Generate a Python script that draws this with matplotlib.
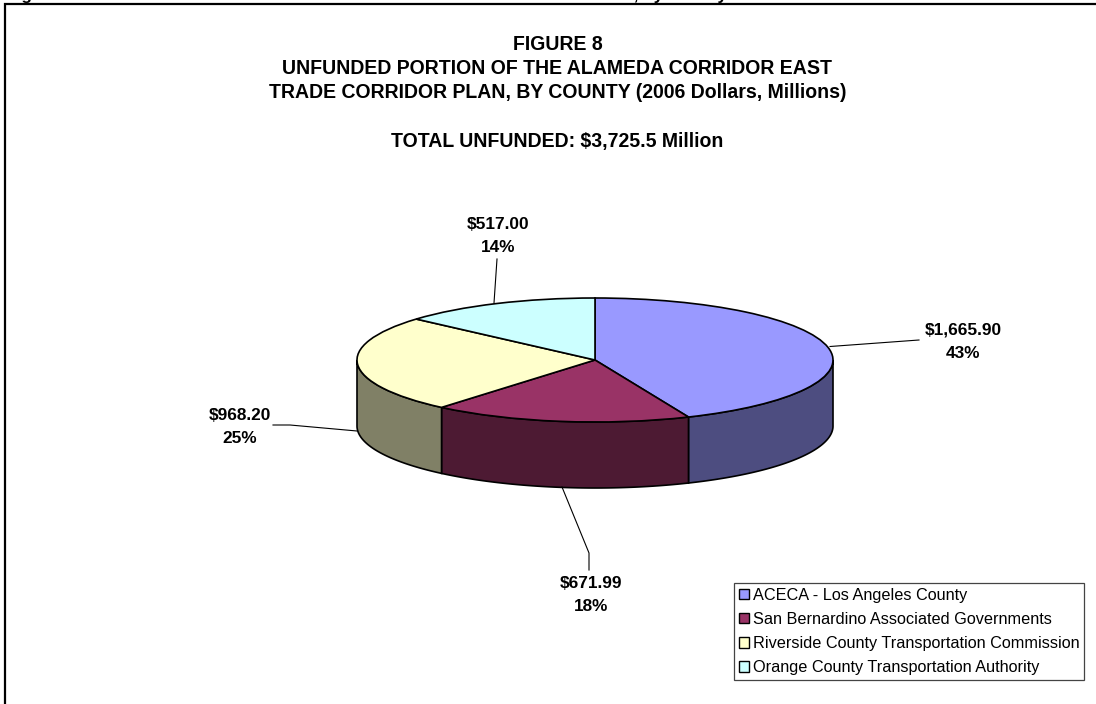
import numpy as np
from matplotlib import pyplot as plt
from matplotlib.patches import Patch

plt.rcParams['font.family'] = ['Liberation Sans', 'DejaVu Sans']

agencies = ['ACECA - Los Angeles County',
            'San Bernardino Associated Governments',
            'Riverside County Transportation Commission',
            'Orange County Transportation Authority']
funding = [1665.90, 671.99, 968.20, 517.00]
value_labels = ['$1,665.90\n43%', '$671.99\n18%', '$968.20\n25%', '$517.00\n14%']
top_colors = ['#9999FF', '#993366', '#FFFFCC', '#CCFFFF']
side_colors = ['#4D4D80', '#4D1A33', '#808066', '#668080']
title_lines = ['FIGURE 8',
               'UNFUNDED PORTION OF THE ALAMEDA CORRIDOR EAST',
               'TRADE CORRIDOR PLAN, BY COUNTY (2006 Dollars, Millions)',
               'TOTAL UNFUNDED: $3,725.5 Million']
page_heading = 'Figure 8: Unfunded Portion of the Alameda Corridor East Trade Corridor Plan, by County'

W, H = 1096, 704
cx, cy, rx, ry, depth = 595, 360, 238, 62, 66

fig = plt.figure(figsize=(W / 100, H / 100), dpi=100)

# pie axes: one data unit is rx pixels across and ry pixels down, so the circle becomes the tilted disc
ax_pie = fig.add_axes([0, 0, 1, 1])
wedges, _ = ax_pie.pie(funding, colors=top_colors, startangle=90, counterclock=False,
                       wedgeprops=dict(edgecolor='black', linewidth=1.2))
ax_pie.set_aspect('auto')
ax_pie.set_xlim(-cx / rx, (W - cx) / rx)
ax_pie.set_ylim((cy - H) / ry, cy / ry)

# rim of the disc, only the front half can be seen
drop = depth / ry
edges = np.concatenate([[0], np.cumsum(funding)]) / np.sum(funding) * 2 * np.pi
for i in range(len(funding)):
    a0 = max(edges[i], np.pi / 2)
    a1 = min(edges[i + 1], 3 * np.pi / 2)
    if a1 <= a0:
        continue
    t = np.linspace(a0, a1, 80)
    xs = np.concatenate([np.sin(t), np.sin(t[::-1])])
    ys = np.concatenate([np.cos(t), np.cos(t[::-1]) - drop])
    ax_pie.fill(xs, ys, facecolor=side_colors[i], edgecolor='black', linewidth=1.2, zorder=0)

# everything else is placed in plain pixels
ax = fig.add_axes([0, 0, 1, 1])
ax.patch.set_alpha(0)
ax.set_xlim(0, W)
ax.set_ylim(H, 0)
ax.axis('off')

ax.plot([5, 5, W], [H, 4, 4], color='black', lw=1.6, solid_joinstyle='miter')
# the reference cuts this heading off at the top edge, only its descenders show
ax.text(6, 0, page_heading, fontsize=12.35, fontweight='bold', ha='left', va='baseline')
for y, s in zip([45, 69, 93, 142], title_lines):
    ax.text(557.5, y, s, fontsize=14.05, fontweight='bold', ha='center', va='center')

leaders = [([830, 919], [346.5, 340]),
           ([562, 589, 589], [487, 553, 570]),
           ([357, 290, 273], [431, 425, 425]),
           ([494, 497], [303, 259])]
label_pos = [(963, 341.5), (591, 595), (240, 427), (498, 236)]
for (lx, ly), (tx, ty), s in zip(leaders, label_pos, value_labels):
    ax.plot(lx, ly, color='black', lw=0.8)
    ax.text(tx, ty, s, fontsize=12.4, fontweight='bold', ha='center', va='center', linespacing=1.7)

handles = [Patch(facecolor=c, edgecolor='black', linewidth=1) for c in top_colors]
leg = ax.legend(handles, agencies, loc='upper left', bbox_to_anchor=(734, 583),
                bbox_transform=ax.transData, borderaxespad=0, fontsize=11.7, frameon=True,
                fancybox=False, framealpha=1, edgecolor='#444444', handlelength=0.62,
                handleheight=0.62, handletextpad=0.25, labelspacing=0.57, borderpad=0.28)
leg.get_frame().set_linewidth(0.9)

fig.savefig('out.png', dpi=100)
